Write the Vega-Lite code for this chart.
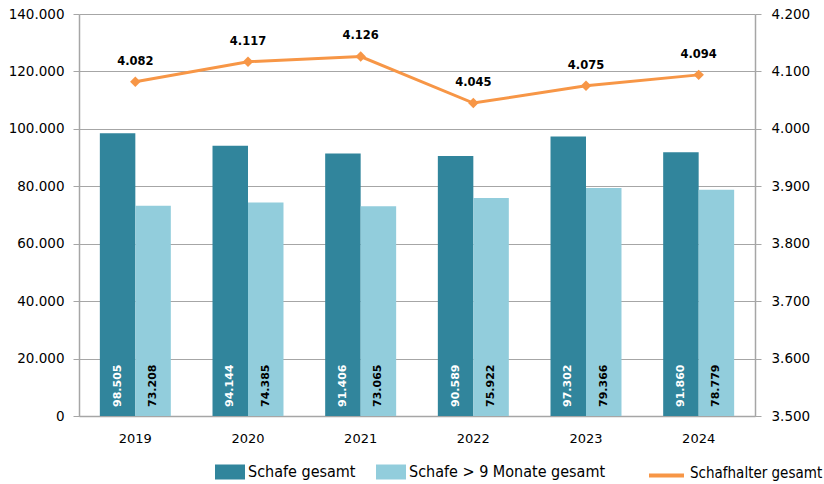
{
  "$schema": "https://vega.github.io/schema/vega-lite/v6.json",
  "width": 676,
  "height": 402,
  "autosize": {"type": "none"},
  "padding": {"left": 79, "top": 14, "right": 69, "bottom": 68},
  "config": {
    "locale": {"number": {"decimal": ",", "thousands": ".", "grouping": [3], "currency": ["", " €"]}},
    "view": {"stroke": null},
    "background": "white"
  },
  "datasets": {
    "schafe": [
      {"year": "2019", "series": "Schafe gesamt", "value": 98505},
      {"year": "2019", "series": "Schafe > 9 Monate gesamt", "value": 73208},
      {"year": "2020", "series": "Schafe gesamt", "value": 94144},
      {"year": "2020", "series": "Schafe > 9 Monate gesamt", "value": 74385},
      {"year": "2021", "series": "Schafe gesamt", "value": 91406},
      {"year": "2021", "series": "Schafe > 9 Monate gesamt", "value": 73065},
      {"year": "2022", "series": "Schafe gesamt", "value": 90589},
      {"year": "2022", "series": "Schafe > 9 Monate gesamt", "value": 75922},
      {"year": "2023", "series": "Schafe gesamt", "value": 97302},
      {"year": "2023", "series": "Schafe > 9 Monate gesamt", "value": 79366},
      {"year": "2024", "series": "Schafe gesamt", "value": 91860},
      {"year": "2024", "series": "Schafe > 9 Monate gesamt", "value": 78779}
    ],
    "halter": [
      {"year": "2019", "series": "Schafhalter gesamt", "value": 4082},
      {"year": "2020", "series": "Schafhalter gesamt", "value": 4117},
      {"year": "2021", "series": "Schafhalter gesamt", "value": 4126},
      {"year": "2022", "series": "Schafhalter gesamt", "value": 4045},
      {"year": "2023", "series": "Schafhalter gesamt", "value": 4075},
      {"year": "2024", "series": "Schafhalter gesamt", "value": 4094}
    ]
  },
  "encoding": {
    "x": {
      "field": "year",
      "type": "nominal",
      "scale": {"paddingInner": 0.37, "paddingOuter": 0.185},
      "axis": {
        "title": null,
        "labelAngle": 0,
        "labelFont": "DejaVu Sans",
        "labelFontSize": 13,
        "labelColor": "#000000",
        "labelPadding": 16,
        "ticks": false,
        "domainColor": "#A6A6A6",
        "domainWidth": 1.5
      }
    }
  },
  "layer": [
    {
      "data": {"name": "schafe"},
      "encoding": {
        "xOffset": {"field": "series", "type": "nominal", "sort": ["Schafe gesamt", "Schafe > 9 Monate gesamt"], "scale": {"paddingInner": 0, "paddingOuter": 0}},
        "y": {
          "field": "value",
          "type": "quantitative",
          "scale": {"domain": [0, 140000], "nice": false},
          "axis": {
            "title": null,
            "orient": "left",
            "values": [0, 20000, 40000, 60000, 80000, 100000, 120000, 140000],
            "format": ",d",
            "labelFont": "DejaVu Sans",
            "labelFontSize": 13.5,
            "labelColor": "#000000",
            "labelPadding": 9,
            "tickSize": 6,
            "tickColor": "#A6A6A6",
            "domainColor": "#A6A6A6",
            "domainWidth": 1.5,
            "grid": true,
            "gridColor": "#A6A6A6",
            "gridWidth": 1.2
          }
        }
      },
      "layer": [
        {
          "mark": {"type": "bar"},
          "encoding": {
            "color": {
              "field": "series",
              "type": "nominal",
              "sort": ["Schafe gesamt", "Schafe > 9 Monate gesamt"],
              "scale": {"domain": ["Schafe gesamt", "Schafe > 9 Monate gesamt"], "range": ["#31859C", "#92CDDC"]},
              "legend": {
                "title": null,
                "orient": "none",
                "direction": "horizontal",
                "legendX": 136,
                "legendY": 443,
                "symbolType": "M-1,-0.5H1V0.5H-1Z",
                "symbolSize": 900,
                "symbolStrokeWidth": 0,
                "labelFont": "DejaVu Sans Condensed",
                "labelFontSize": 16,
                "labelColor": "#000000",
                "labelOffset": 3,
                "columnPadding": 20,
                "labelLimit": 300
              }
            }
          }
        },
        {
          "mark": {"type": "text", "angle": 270, "align": "left", "baseline": "middle", "dx": 9, "font": "DejaVu Sans", "fontSize": 11, "fontWeight": "bold"},
          "encoding": {
            "y": {"datum": 0, "type": "quantitative"},
            "text": {"field": "value", "type": "quantitative", "format": ",d"},
            "color": {
              "condition": {"test": "datum.series === 'Schafe gesamt'", "value": "#FFFFFF"},
              "value": "#000000"
            }
          }
        }
      ]
    },
    {
      "data": {"name": "halter"},
      "encoding": {
        "y": {
          "field": "value",
          "type": "quantitative",
          "scale": {"domain": [3500, 4200], "nice": false, "zero": false},
          "axis": {
            "title": null,
            "orient": "right",
            "values": [3500, 3600, 3700, 3800, 3900, 4000, 4100, 4200],
            "format": ",d",
            "labelFont": "DejaVu Sans",
            "labelFontSize": 13.5,
            "labelColor": "#000000",
            "labelPadding": 10,
            "tickSize": 6,
            "tickColor": "#A6A6A6",
            "domainColor": "#A6A6A6",
            "domainWidth": 1.5,
            "grid": false
          }
        }
      },
      "layer": [
        {
          "mark": {"type": "line", "strokeWidth": 3, "point": {"filled": true, "shape": "diamond", "size": 110}},
          "encoding": {
            "color": {
              "field": "series",
              "type": "nominal",
              "scale": {"domain": ["Schafhalter gesamt"], "range": ["#F79646"]},
              "legend": {
                "title": null,
                "orient": "none",
                "direction": "horizontal",
                "legendX": 568,
                "legendY": 442,
                "symbolType": "stroke",
                "symbolSize": 1225,
                "symbolStrokeWidth": 4,
                "labelFont": "DejaVu Sans Condensed",
                "labelFontSize": 15,
                "labelColor": "#000000",
                "labelOffset": 4,
                "labelLimit": 300,
                "encode": {
                  "symbols": {"update": {"stroke": {"value": "#E46C0A"}}},
                  "labels": {"update": {"dy": {"value": -3}}}
                }
              }
            }
          }
        },
        {
          "mark": {"type": "text", "align": "center", "baseline": "alphabetic", "dy": -17, "font": "DejaVu Sans", "fontSize": 11.5, "fontWeight": "bold", "color": "#000000"},
          "encoding": {
            "text": {"field": "value", "type": "quantitative", "format": ",d"}
          }
        }
      ]
    }
  ],
  "resolve": {"scale": {"y": "independent", "color": "independent"}}
}
